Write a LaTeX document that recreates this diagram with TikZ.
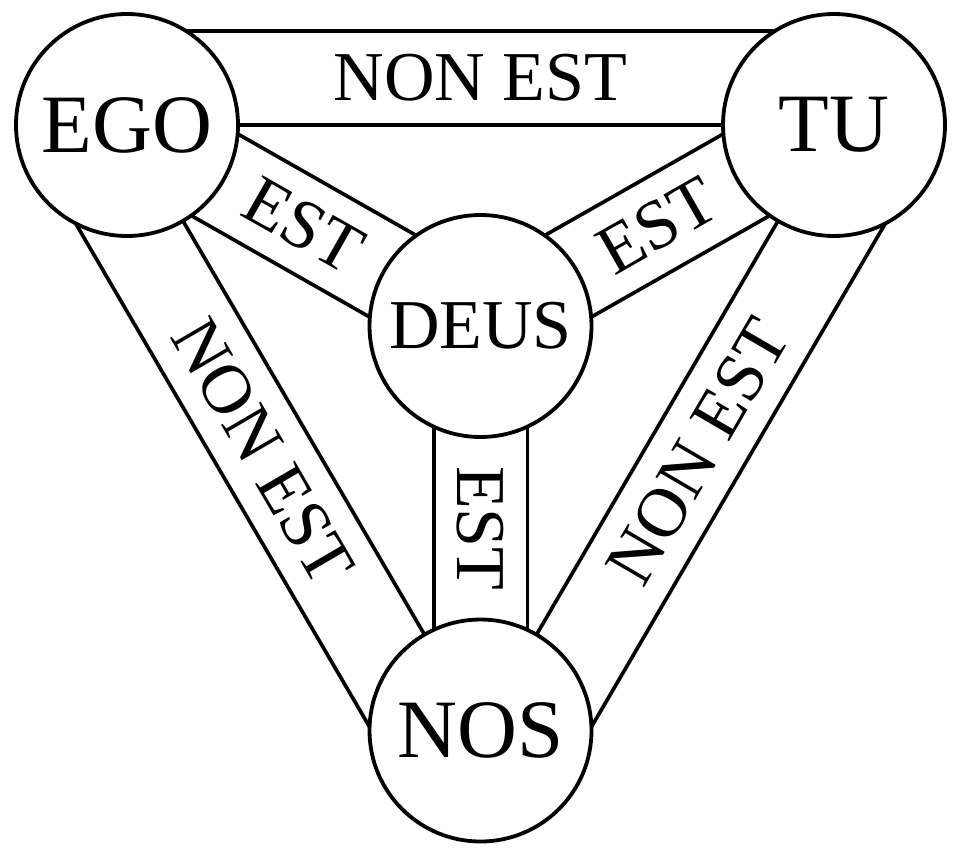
\documentclass[tikz,border=0pt]{standalone}
\usepackage{fontspec}
\setmainfont{Liberation Serif}
\usetikzlibrary{calc,backgrounds}
\begin{document}
\begin{tikzpicture}[x=1pt,y=-1pt,
  band/.style={draw=black, line width=3.8pt, double=white, double distance=90pt},
  circ/.style={circle, draw=black, line width=3.8pt, fill=white, minimum size=222pt, inner sep=0pt},
  bigname/.style={circ, font=\fontsize{83}{90}\selectfont},
  midname/.style={circ, font=\fontsize{70}{80}\selectfont},
  lab/.style={font=\fontsize{70}{80}\selectfont, inner sep=0pt, text=black}]
\useasboundingbox (0,0) rectangle (960,857);
\node[bigname] (ego) at (127,125) {EGO};
\node[bigname] (tu) at (834,125) {TU};
\node[midname] (deus) at (480.5,326) {DEUS};
\node[bigname] (nos) at (480.5,730.5) {NOS};
\begin{scope}[on background layer]
  % outer bands (offset outward)
  \draw[band] ($(ego.center)!47pt!90:(tu.center)$) -- node[lab, sloped] (l1) {NON EST} ($(tu.center)!47pt!-90:(ego.center)$);
  \draw[band] ($(tu.center)!47pt!90:(nos.center)$) -- node[lab, sloped] (l2) {NON EST} ($(nos.center)!47pt!-90:(tu.center)$);
  \draw[band] ($(nos.center)!47pt!90:(ego.center)$) -- node[lab, sloped] (l3) {NON EST} ($(ego.center)!47pt!-90:(nos.center)$);
  % inner bands
  \draw[band] (ego.center) -- node[lab, sloped] (l4) {EST} (deus.center);
  \draw[band] (deus.center) -- node[lab, sloped] (l5) {EST} (tu.center);
  \draw[band] (deus.center) -- node[lab, rotate=-90] (l6) {EST} (nos.center);
\end{scope}
\end{tikzpicture}
\end{document}
